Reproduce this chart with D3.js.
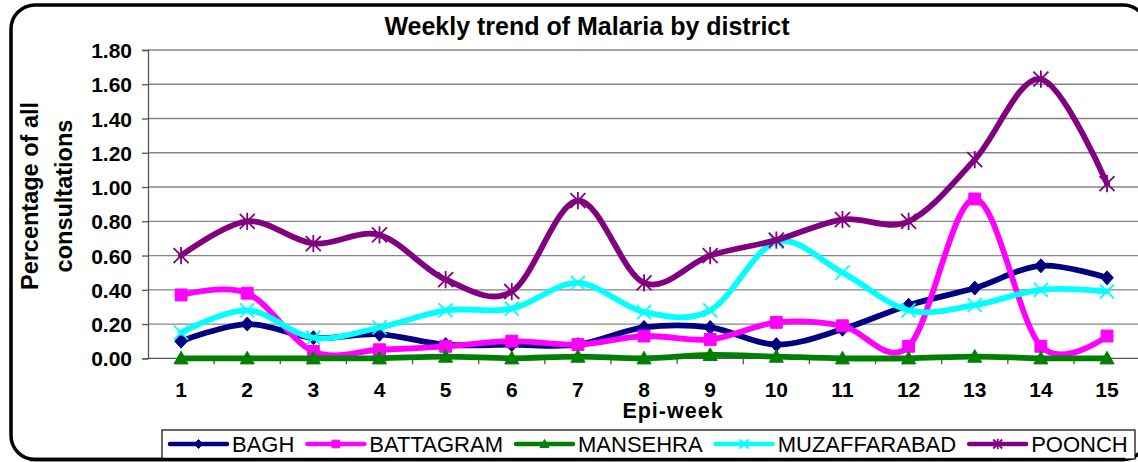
<!DOCTYPE html>
<html><head><meta charset="utf-8">
<script src="https://cdn.jsdelivr.net/npm/d3@7"></script>
<style>body{margin:0;background:#fff} svg{display:block;font-family:Arial,"Liberation Sans",sans-serif}</style>
</head><body><svg id="c" width="1138" height="462"></svg>
<script>
// ---- data ----
const weeks = [1,2,3,4,5,6,7,8,9,10,11,12,13,14,15];
const seriesNames = ["BAGH","BATTAGRAM","MANSEHRA","MUZAFFARABAD","POONCH"];
const bagh         = [0.10,0.20,0.12,0.14,0.08,0.08,0.08,0.18,0.18,0.08,0.17,0.31,0.41,0.54,0.47];
const battagram    = [0.37,0.38,0.04,0.05,0.07,0.10,0.08,0.13,0.11,0.21,0.19,0.07,0.93,0.07,0.13];
const mansehra     = [0.00,0.00,0.00,0.00,0.01,0.00,0.01,0.00,0.02,0.01,0.00,0.00,0.01,0.00,0.00];
const muzaffarabad = [0.15,0.28,0.12,0.18,0.28,0.29,0.44,0.27,0.28,0.68,0.50,0.28,0.31,0.40,0.39];
const poonch       = [0.60,0.80,0.67,0.72,0.46,0.39,0.92,0.44,0.60,0.69,0.81,0.80,1.16,1.63,1.02];
const yTicks = [0,0.2,0.4,0.6,0.8,1.0,1.2,1.4,1.6,1.8];
const titleText = "Weekly trend of Malaria by district";
const xTitle = "Epi-week";
const yTitle = ["Percentage of all","consultations"];

const seriesValues = [bagh, battagram, mansehra, muzaffarabad, poonch];
const colors = ["#000080","#FF00FF","#008000","#00FFFF","#800080"];
const markerKinds = ["diamond","square","triangle","x","star"];

// ---- layout ----
const svg = d3.select("#c");
const pLeft = 148, pTop = 50, pBottom = 358.3, step = 66.14;
const x = d3.scaleBand().domain(weeks).range([pLeft, pLeft + step*weeks.length]).padding(0);
const y = d3.scaleLinear().domain([0,1.8]).range([pBottom, pTop]);

// chart border
svg.append("rect").attr("x",11).attr("y",5).attr("width",1136).attr("height",454.5)
  .attr("rx",24).attr("ry",24).attr("fill","#fff").attr("stroke","#000").attr("stroke-width",3.5);

// title
svg.append("text").attr("x",587).attr("y",35).attr("text-anchor","middle")
  .attr("font-size",25).attr("font-weight","bold").text(titleText);

// gridlines
svg.append("g").selectAll("line").data(yTicks.filter(d=>d>0)).join("line")
  .attr("x1",pLeft).attr("x2",1138).attr("y1",d=>y(d)).attr("y2",d=>y(d))
  .attr("stroke","#858585").attr("stroke-width",1.3);

// y axis
const yAxis = svg.append("g").attr("transform",`translate(${pLeft},0)`)
  .call(d3.axisLeft(y).tickValues(yTicks).tickFormat(d3.format(".2f")).tickSize(6).tickPadding(10));
yAxis.select(".domain").attr("stroke","#555").attr("stroke-width",1.3);
yAxis.selectAll(".tick line").attr("stroke","#555").attr("stroke-width",1.3);
yAxis.selectAll("text").attr("font-size",21).attr("font-weight","bold").attr("fill","#000")
  .attr("font-family","Arial,'Liberation Sans',sans-serif").attr("dy","0.36em");

// x axis line + boundary ticks
svg.append("line").attr("x1",pLeft).attr("x2",1138).attr("y1",pBottom).attr("y2",pBottom)
  .attr("stroke","#555").attr("stroke-width",1.3);
svg.append("g").selectAll("line").data(weeks).join("line")
  .attr("x1",d=>x(d)+x.bandwidth()).attr("x2",d=>x(d)+x.bandwidth())
  .attr("y1",pBottom).attr("y2",pBottom+6).attr("stroke","#555").attr("stroke-width",1.3);
svg.append("g").selectAll("text").data(weeks).join("text")
  .attr("x",d=>x(d)+x.bandwidth()/2).attr("y",397).attr("text-anchor","middle")
  .attr("font-size",21).attr("font-weight","bold").text(d=>d);

// axis titles
svg.append("text").attr("x",673).attr("y",418).attr("text-anchor","middle")
  .attr("font-size",21.5).attr("font-weight","bold").attr("letter-spacing",1).text(xTitle);
const yt = svg.append("text").attr("transform","translate(38,196) rotate(-90)")
  .attr("text-anchor","middle").attr("font-size",23.5).attr("font-weight","bold");
yt.append("tspan").attr("x",0).attr("y",0).text(yTitle[0]);
yt.append("tspan").attr("x",0).attr("y",34).text(yTitle[1]);

// markers
function markerPath(kind, s){
  switch(kind){
    case "diamond": return `M0,${-s}L${s*0.9},0L0,${s}L${-s*0.9},0Z`;
    case "square": return `M${-s*0.85},${-s*0.85}h${s*1.7}v${s*1.7}h${-s*1.7}Z`;
    case "triangle": return `M0,${-s}L${s},${s*0.8}L${-s},${s*0.8}Z`;
    case "x": return `M${-s},${-s}L${s},${s}M${-s},${s}L${s},${-s}`;
    case "star": return `M${-s},${-s}L${s},${s}M${-s},${s}L${s},${-s}M0,${-s*1.15}L0,${s*1.15}`;
  }
}
function drawMarker(g, kind, color, s){
  const stroked = (kind==="x"||kind==="star");
  g.append("path").attr("d",markerPath(kind,s))
    .attr("fill",stroked?"none":color).attr("stroke",color)
    .attr("stroke-width",stroked?1.8:1);
}

// series
const line = d3.line().x((d,i)=>x(weeks[i])+x.bandwidth()/2).y(d=>y(d)).curve(d3.curveCatmullRom.alpha(0));
seriesValues.forEach((vals,si)=>{
  const g = svg.append("g");
  g.append("path").attr("d",line(vals)).attr("fill","none").attr("stroke",colors[si])
    .attr("stroke-width",5.8).attr("stroke-linejoin","round").attr("stroke-linecap","round");
  vals.forEach((v,i)=>{
    const mg = g.append("g").attr("transform",`translate(${x(weeks[i])+x.bandwidth()/2},${y(v)})`);
    drawMarker(mg, markerKinds[si], colors[si], markerKinds[si]==="star"?7.5:7);
  });
});

// legend
svg.append("rect").attr("x",162).attr("y",430).attr("width",973).attr("height",29)
  .attr("fill","#fff").attr("stroke","#000").attr("stroke-width",1.2);
let lx = 170;
seriesNames.forEach((name,si)=>{
  const g = svg.append("g");
  g.append("line").attr("x1",lx).attr("x2",lx+57).attr("y1",444).attr("y2",444)
    .attr("stroke",colors[si]).attr("stroke-width",4.5).attr("stroke-linecap","round");
  const mg = g.append("g").attr("transform",`translate(${lx+28.5},444)`);
  drawMarker(mg, markerKinds[si], colors[si], 4.5);
  const t = g.append("text").attr("x",lx+62).attr("y",452).attr("font-size",22).text(name);
  lx = lx + 62 + t.node().getComputedTextLength() + 13;
});
// redraw chart bottom border over legend edge
svg.append("line").attr("x1",30).attr("x2",1125).attr("y1",459.5).attr("y2",459.5)
  .attr("stroke","#000").attr("stroke-width",3.5);
</script></body></html>
